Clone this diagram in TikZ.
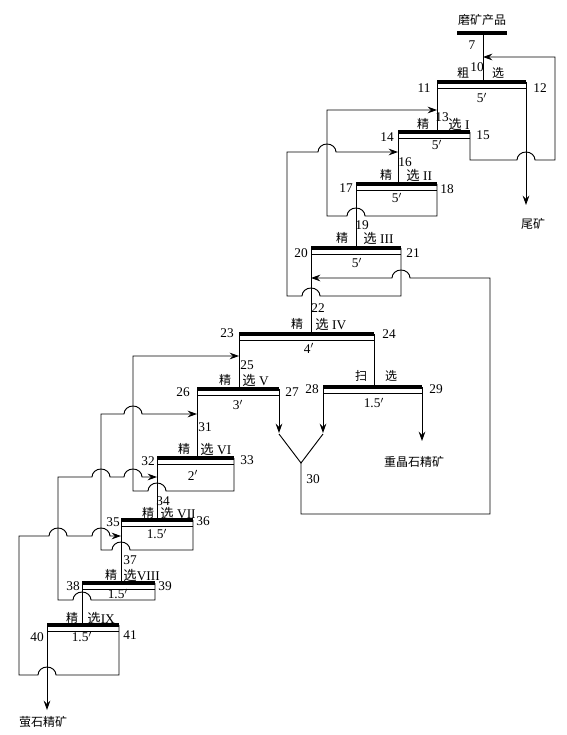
\documentclass[tikz,border=0pt]{standalone}
\usepackage{fontspec}
\setmainfont{Liberation Serif}
\newfontfamily\cjk{Noto Sans CJK SC}
\usetikzlibrary{positioning, arrows.meta, calc}

\tikzset{
  flow/.style={line width=0.7pt},
  bar/.style={line width=2.6pt},
  num/.style={font=\fontsize{10}{12}\selectfont, inner sep=0pt},
  cn/.style={font=\cjk\fontsize{9}{11}\selectfont, inner sep=0pt},
  tip/.style={-{Stealth[length=7pt,width=5pt,inset=2.5pt]}},
}

% one flotation cell: thick bar with thin line below
\newcommand{\flotcell}[4]{% name, left x, right x, bar y
  \coordinate (#1-l) at (#2,#4);
  \coordinate (#1-r) at (#3,#4);
  \draw[bar] (#1-l) -- (#1-r);
  \draw ($(#1-l)+(0,6)$) -- ($(#1-r)+(0,6)$);}
% line jumps over a crossing line
\newcommand{\hopR}[2]{-- (#1-9,#2) arc[start angle=180,end angle=0,x radius=6.75pt,y radius=6pt]}
\newcommand{\hopL}[2]{-- (#1+9,#2) arc[start angle=0,end angle=180,x radius=6.75pt,y radius=6pt]}

\begin{document}
\begin{tikzpicture}[x=0.75pt,y=-0.75pt,flow]
\useasboundingbox (0,0) rectangle (567,735);

% feed
\coordinate (feed) at (483,33);
\draw[bar] (457,33) -- (507,33);
\node[cn] (feedlbl) at (482,20) {磨矿产品};

% cells
\flotcell{ro}{437}{526}{82}
\flotcell{c1}{398}{470}{132}
\flotcell{c2}{356}{437}{184}
\flotcell{c3}{311}{401}{248}
\flotcell{c4}{239}{374}{334}
\flotcell{c5}{197}{279}{389}
\flotcell{sc}{323}{422}{387}
\flotcell{c6}{157}{234}{458}
\flotcell{c7}{121}{193}{520}
\flotcell{c8}{82}{155}{583}
\flotcell{c9}{47}{119}{625}

% concentrate lines
\draw (feed) -- (feed |- ro-l);
\draw (ro-l) -- (ro-l |- c1-l);
\draw (c1-l) -- (c1-l |- c2-l);
\draw (c2-l) -- (c2-l |- c3-l);
\draw (c3-l) -- (c3-l |- c4-l);
\draw (c4-l) -- (c4-l |- c5-l);
\draw (c4-r) -- (c4-r |- sc-l);
\draw (c5-l) -- (c5-l |- c6-l);
\draw (c6-l) -- (c6-l |- c7-l);
\draw (c7-l) -- (c7-l |- c8-l);
\draw (c8-l) -- (c8-l |- c9-l);

% products
\coordinate (tailend) at (526,205);
\coordinate (flend) at (47,710);
\coordinate (baend) at (422,441);
\draw[tip] (ro-r) -- (tailend);
\draw[tip] (c9-l) -- (flend);
\draw[tip] (sc-r) -- (baend);
\node[cn] (tails) at (533,224) {尾矿};
\node[cn] (fluor) at (43,722) {萤石精矿};
\node[cn] (barite) at (414,462) {重晶石精矿};

% middlings 30
\coordinate (v30) at (301,463);
\draw[tip] (c5-r) -- (279,433);
\draw[tip] (sc-l) -- (323,433);
\draw (279,434) -- (v30) -- (323,434);
\draw[tip] (v30) -- (301,514) -- (490,514) -- (490,278) \hopL{401}{278} -- (311,278);

% tailings returns
\draw[tip] (c1-r) -- (470,160) \hopR{526}{160} -- (555,160) -- (555,57) -- (483,57);
\draw[tip] (c2-r) -- (437,216) \hopL{356}{216} -- (327,216) -- (327,110) -- (437,110);
\draw[tip] (c3-r) -- (401,296) \hopL{311}{296} -- (287,296) -- (287,152) \hopR{327}{152} -- (398,152);
\draw[tip] (c6-r) -- (234,491) \hopL{157}{491} -- (133,491) -- (133,356) -- (239,356);
\draw[tip] (c7-r) -- (193,550) \hopL{121}{550} -- (101,550) -- (101,414) \hopR{133}{414} -- (197,414);
\draw[tip] (c8-r) -- (155,600) \hopL{82}{600} -- (58,600) -- (58,477) \hopR{101}{477} \hopR{133}{477} -- (157,477);
\draw[tip] (c9-r) -- (119,675) \hopL{47}{675} -- (19,675) -- (19,536) \hopR{58}{536} \hopR{101}{536} -- (121,536);

% stream numbers
\foreach \n/\x/\y in {7/472/45, 10/477/67, 11/424/88, 12/540/88, 13/442/117,
    14/387/137, 15/483/135, 16/405/162, 17/346/188, 18/447/189, 19/362/225,
    20/301/253, 21/413/253, 22/318/308, 23/227/333, 24/389/334, 25/247/365,
    26/183/392, 27/292/392, 28/312/389, 29/436/389, 30/313/479, 31/205/427,
    32/148/461, 33/247/460, 34/163/501, 35/113/522, 36/203/521, 37/130/560,
    38/73/586, 39/165/586, 40/37/637, 41/130/635}
  \node[num] (n\n) at (\x,\y) {\n};

% cell captions
\foreach \nm/\x/\y/\t in {ro1/463/73/粗, ro2/498/73/选, c1/423/124/精, c2/386/175/精,
    c3/342/238/精, c4/297/324/精, c5/225/380/精, sc1/361/376/扫, sc2/391/376/选,
    c6/184/449/精, c7/148/513/精, c8/111/575/精, c9/72/618/精}
  \node[cn] (cap\nm) at (\x,\y) {\t};
\foreach \nm/\x/\y/\t in {c1/448/124/{{\cjk 选} I}, c2/406/175/{{\cjk 选} II},
    c3/363/238/{{\cjk 选} III}, c4/315/324/{{\cjk 选} IV}, c5/242/380/{{\cjk 选} V},
    c6/200/449/{{\cjk 选} VI}, c7/160/513/{{\cjk 选} VII}, c8/123/575/{{\cjk 选}VIII},
    c9/87/618/{{\cjk 选}IX}}
  \node[num, anchor=west] (sel\nm) at (\x,\y) {\t};

% cell times
\foreach \nm/\x/\y/\t in {ro/482/98/5, c1/437/145/5, c2/397/198/5, c3/357/263/5,
    c4/309/348/4, c5/238/405/3, sc/374/403/1.5, c6/193/475/2, c7/157/534/1.5,
    c8/118/594/1.5, c9/82/637/1.5}
  \node[num] (time\nm) at (\x,\y) {\t$'$};
\end{tikzpicture}
\end{document}
